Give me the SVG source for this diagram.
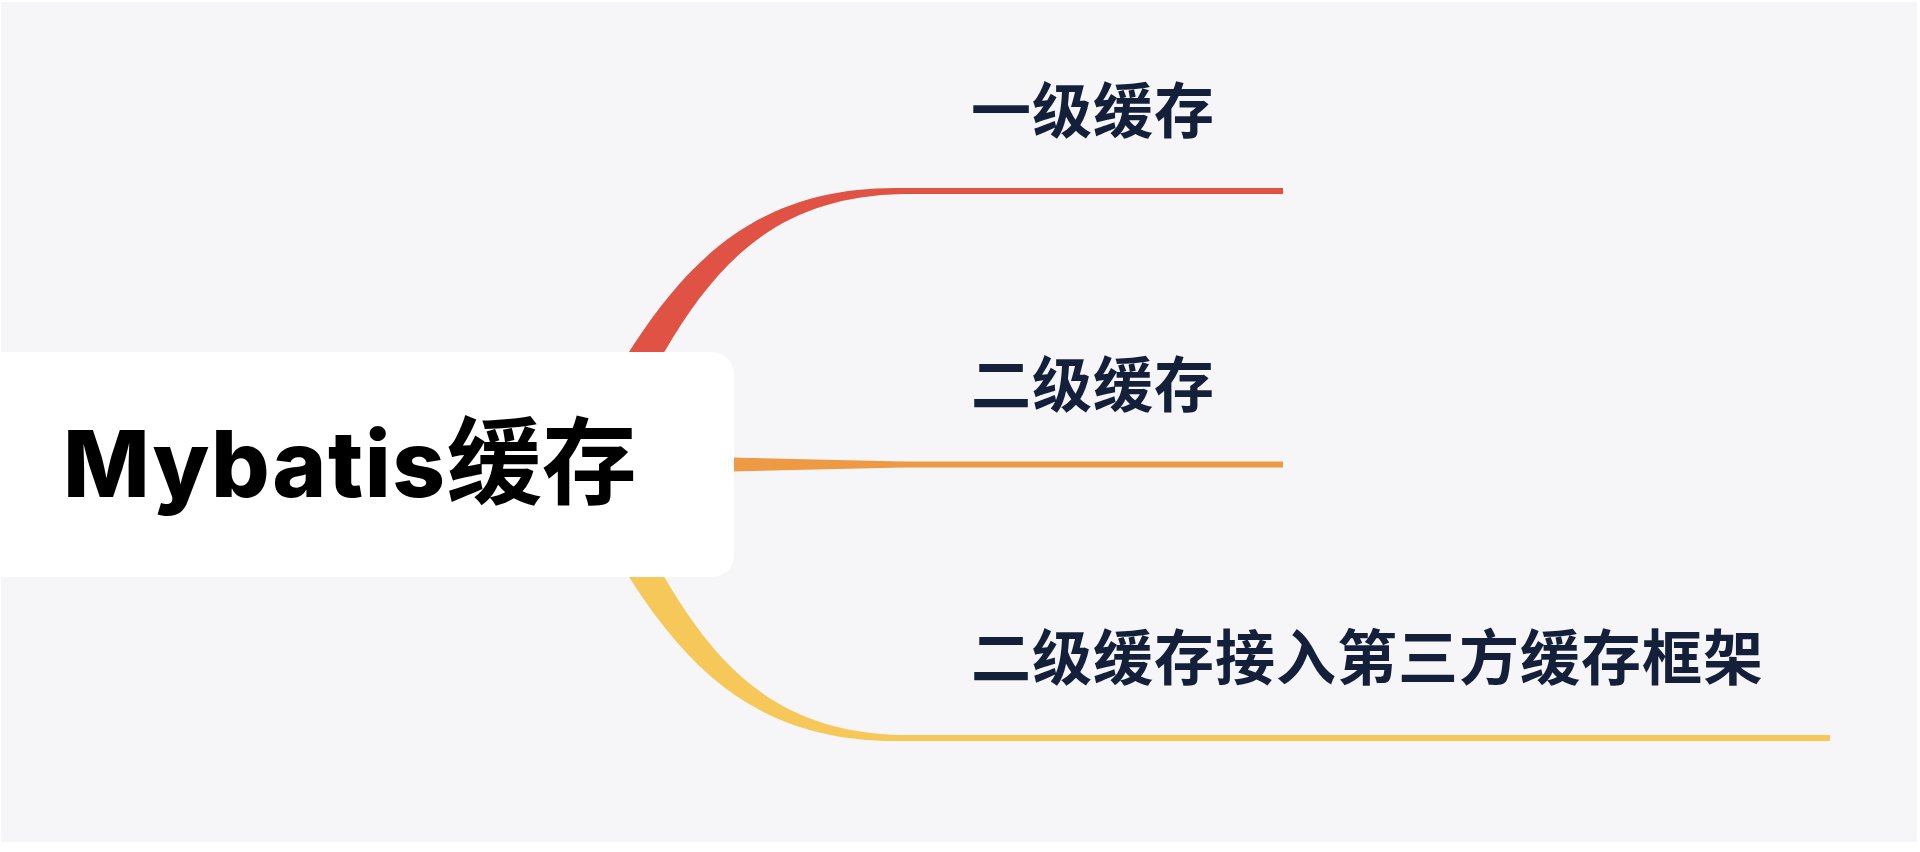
<svg xmlns="http://www.w3.org/2000/svg" width="1920" height="852" viewBox="0 0 1920 852">
  <style>
    .label { font-family: "Noto Sans CJK SC", "Noto Sans", sans-serif; font-size: 60px; font-weight: 700; fill: #14203a; letter-spacing: 1px; }
    .root-text { font-family: Inter, "Noto Sans CJK SC", sans-serif; font-size: 92px; font-weight: 800; fill: #000000; }
    .line { fill: none; stroke-width: 6; stroke-linecap: butt; }
  </style>
  <rect x="0" y="0" width="1920" height="852" fill="#ffffff"/>
  <rect x="1" y="2" width="1916" height="840" fill="#f6f6f9"/>

  <g id="connectors">
    <g id="branch-1">
      <path d="M568,457 C649.6,311 716,184.5 903,188 L903,194 C724,197.5 678.5,329 598,473 Z" fill="#e05243"/>
      <line class="line" x1="902" y1="191" x2="1283" y2="191" stroke="#e05243"/>
    </g>
    <g id="branch-2">
      <path d="M580,454 L903,461.5 L903,467.5 L580,475 Z" fill="#ee9a45"/>
      <line class="line" x1="902" y1="464.5" x2="1283" y2="464.5" stroke="#ee9a45"/>
    </g>
    <g id="branch-3">
      <path d="M568,472 C649.6,618 716,744.5 903,741 L903,735 C724,731.5 678.5,600 598,456 Z" fill="#f6c85a"/>
      <line class="line" x1="902" y1="738" x2="1830" y2="738" stroke="#f6c85a"/>
    </g>
  </g>

  <g id="root">
    <rect x="-40" y="352" width="774" height="225" rx="22" ry="22" fill="#ffffff"/>
    <text class="root-text" x="63" y="497"><tspan letter-spacing="1.6">Mybatis</tspan><tspan font-family="'Noto Sans CJK SC', sans-serif" font-weight="700" font-size="95">缓存</tspan></text>
  </g>

  <g id="node-1">
    <text class="label" x="971" y="133">一级缓存</text>
  </g>
  <g id="node-2">
    <text class="label" x="971" y="407">二级缓存</text>
  </g>
  <g id="node-3">
    <text class="label" x="971" y="680">二级缓存接入第三方缓存框架</text>
  </g>
</svg>
